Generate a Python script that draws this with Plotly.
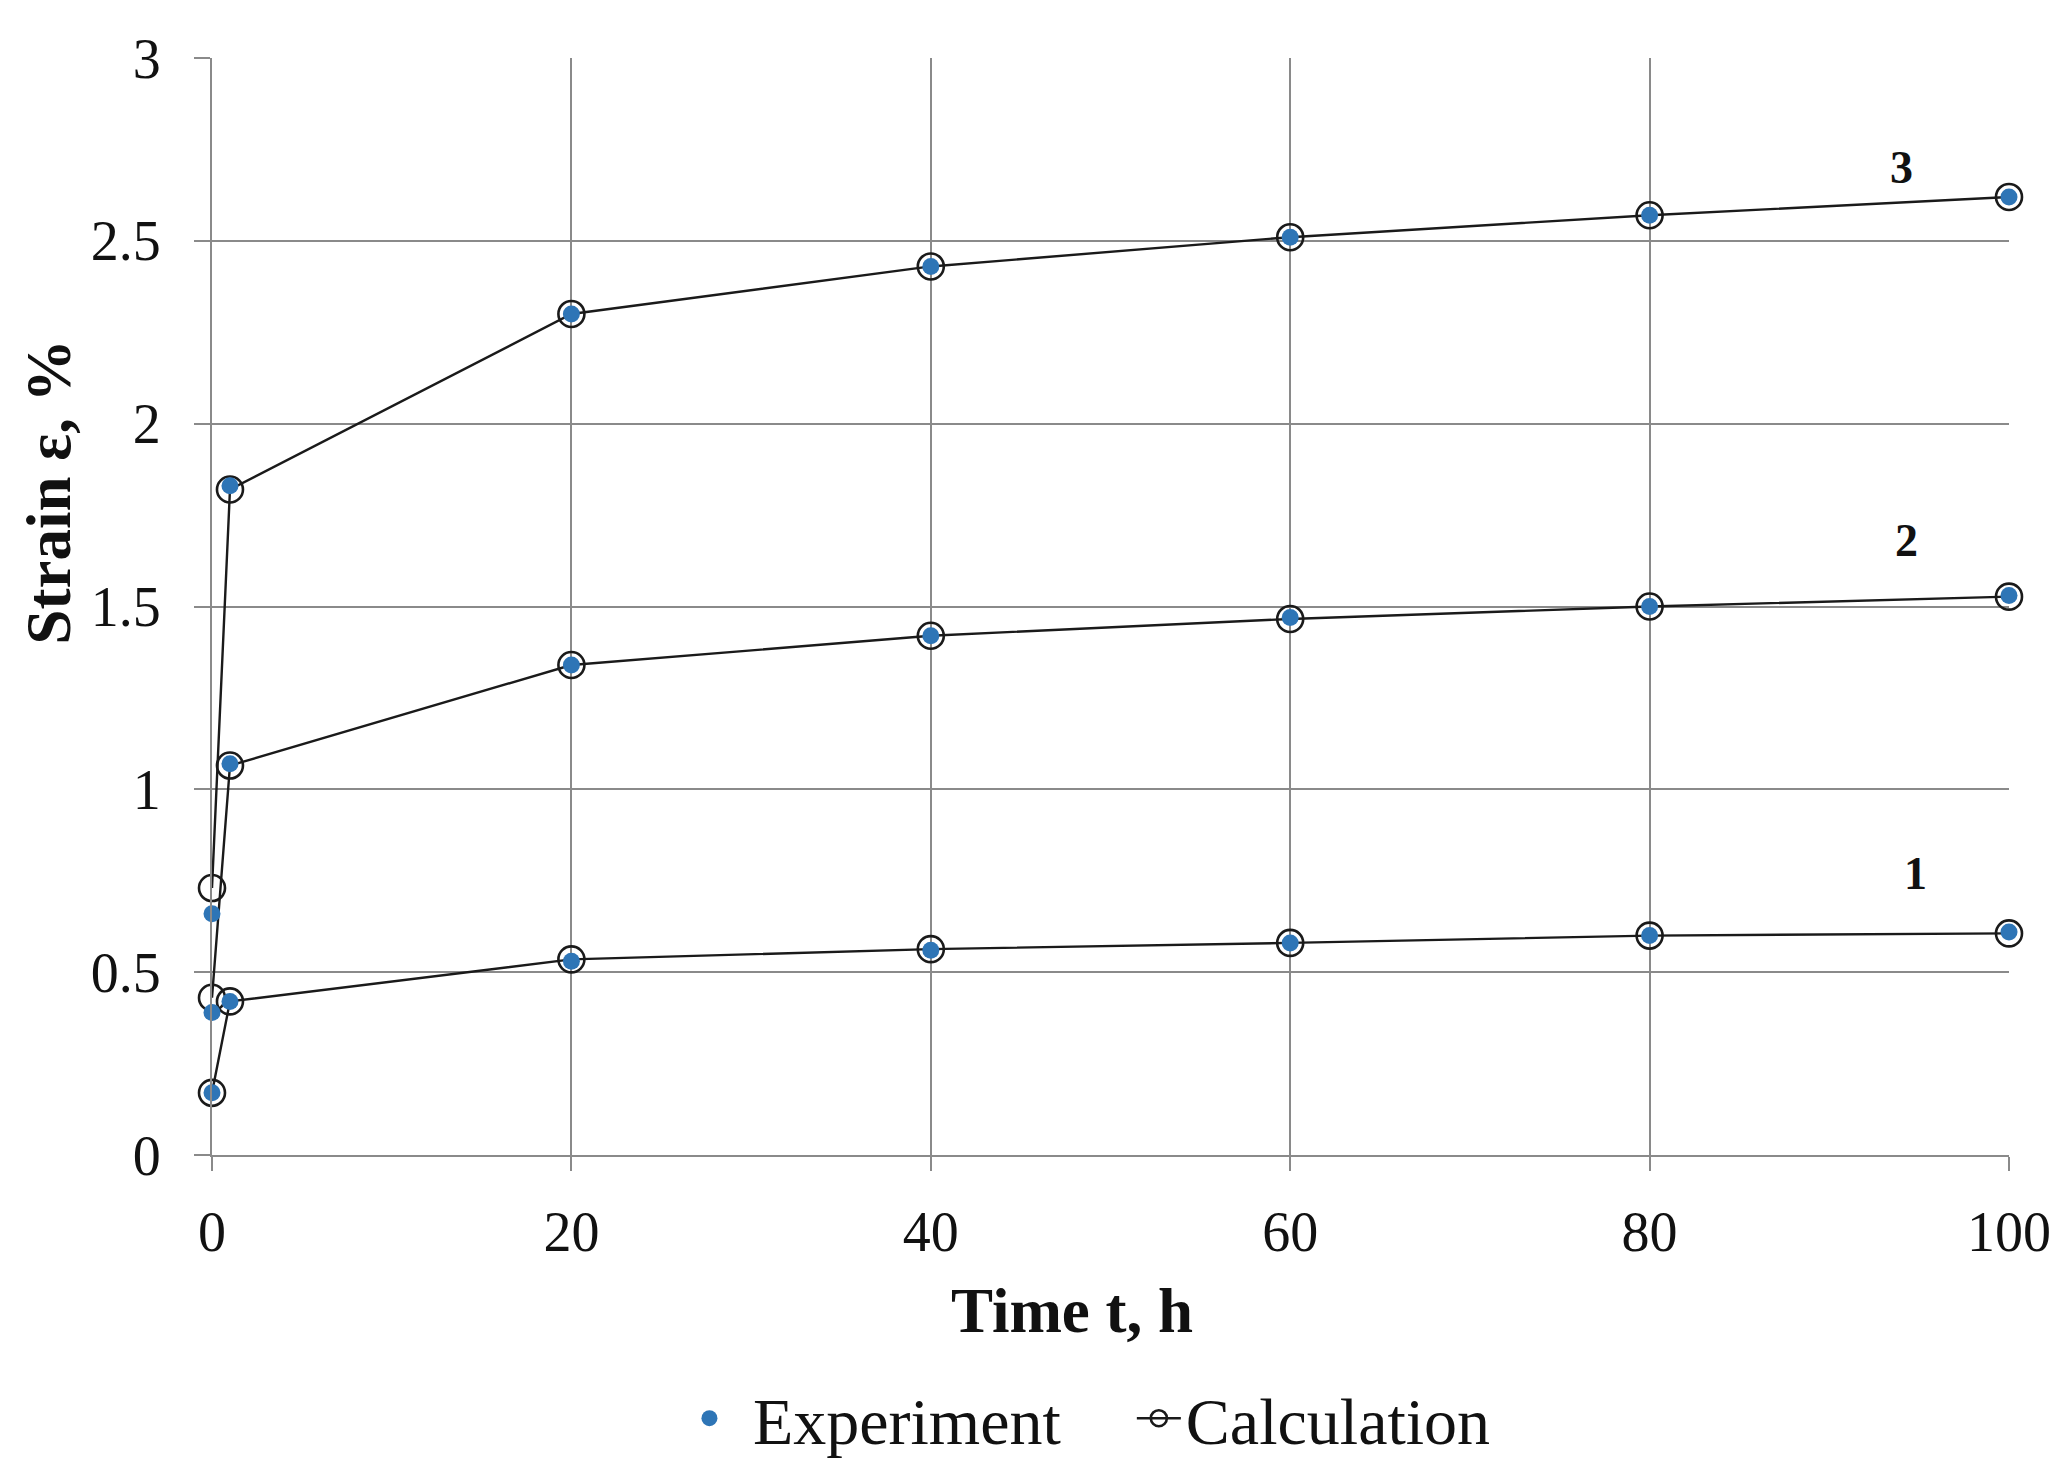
import plotly.graph_objects as go

# Data
t = [0, 1, 20, 40, 60, 80, 100]
exp_1 = [0.17, 0.42, 0.53, 0.56, 0.58, 0.60, 0.61]
exp_2 = [0.39, 1.07, 1.34, 1.42, 1.47, 1.50, 1.53]
exp_3 = [0.66, 1.83, 2.30, 2.43, 2.51, 2.57, 2.62]
calc_1 = [0.17, 0.42, 0.535, 0.563, 0.58, 0.60, 0.606]
calc_2 = [0.43, 1.065, 1.34, 1.42, 1.466, 1.50, 1.527]
calc_3 = [0.73, 1.82, 2.30, 2.43, 2.51, 2.57, 2.62]
curve_labels = ["1", "2", "3"]
x_ticks = [0, 20, 40, 60, 80, 100]
y_ticks = [0, 0.5, 1, 1.5, 2, 2.5, 3]
y_tick_text = ["0", "0.5", "1", "1.5", "2", "2.5", "3"]

FONT = "Liberation Serif, Times New Roman, serif"
GRID = "#8a8a8a"
BLUE = "#2e75b6"

fig = go.Figure()

for i, c in enumerate([calc_1, calc_2, calc_3]):
    fig.add_trace(go.Scatter(
        x=t, y=c, mode="lines+markers", name="Calculation",
        legendgroup="calc", showlegend=(i == 0),
        line=dict(color="#1a1a1a", width=2.4),
        marker=dict(symbol="circle-open", size=26, color="#1a1a1a",
                    line=dict(width=2.6)),
        cliponaxis=False,
    ))

for i, e in enumerate([exp_1, exp_2, exp_3]):
    fig.add_trace(go.Scatter(
        x=t, y=e, mode="markers", name="&nbsp;Experiment&nbsp;&nbsp;&nbsp;&nbsp;",
        legendgroup="exp", showlegend=(i == 0),
        marker=dict(symbol="circle", size=17, color=BLUE),
        cliponaxis=False,
    ))

label_pos = [(94.8, 0.77), (94.3, 1.68), (94.0, 2.70)]
annotations = []
for lab, (lx, ly) in zip(curve_labels, label_pos):
    annotations.append(dict(x=lx, y=ly, xref="x", yref="y", text="<b>%s</b>" % lab,
                            showarrow=False, font=dict(family=FONT, size=46, color="#111")))

annotations.append(dict(x=0.4786, y=-0.1426, xref="paper", yref="paper",
                        text="<b>Time t, h</b>", showarrow=False,
                        xanchor="center", yanchor="middle",
                        font=dict(family=FONT, size=63, color="#111")))
annotations.append(dict(x=-0.0907, y=0.604, xref="paper", yref="paper",
                        text="<b>Strain ε, %</b>", showarrow=False, textangle=-90,
                        xanchor="center", yanchor="middle",
                        font=dict(family=FONT, size=63, color="#111")))

fig.update_layout(
    width=2057, height=1472,
    margin=dict(l=204, r=56, t=50, b=321),
    paper_bgcolor="white", plot_bgcolor="white",
    font=dict(family=FONT, size=56, color="#111"),
    annotations=annotations,
    legend=dict(orientation="h", x=0.488, xanchor="center", y=-0.240, yanchor="middle",
                font=dict(family=FONT, size=66, color="#111"),
                traceorder="reversed", bgcolor="rgba(0,0,0,0)", itemwidth=44),
)
fig.update_xaxes(range=[0, 100], tickvals=x_ticks, showgrid=True, gridcolor=GRID, gridwidth=2,
                 showline=True, linecolor=GRID, linewidth=2, zeroline=False,
                 ticks="outside", ticklen=14, tickwidth=2, tickcolor=GRID,
                 ticklabelstandoff=13, tickfont=dict(family=FONT, size=56, color="#111"))
fig.update_yaxes(range=[0, 3], tickvals=y_ticks, ticktext=y_tick_text, showgrid=True,
                 gridcolor=GRID, gridwidth=2,
                 showline=True, linecolor=GRID, linewidth=2, zeroline=False,
                 ticks="outside", ticklen=16, tickwidth=2, tickcolor=GRID,
                 ticklabelstandoff=22, tickfont=dict(family=FONT, size=56, color="#111"))

fig.write_html("out.html")
